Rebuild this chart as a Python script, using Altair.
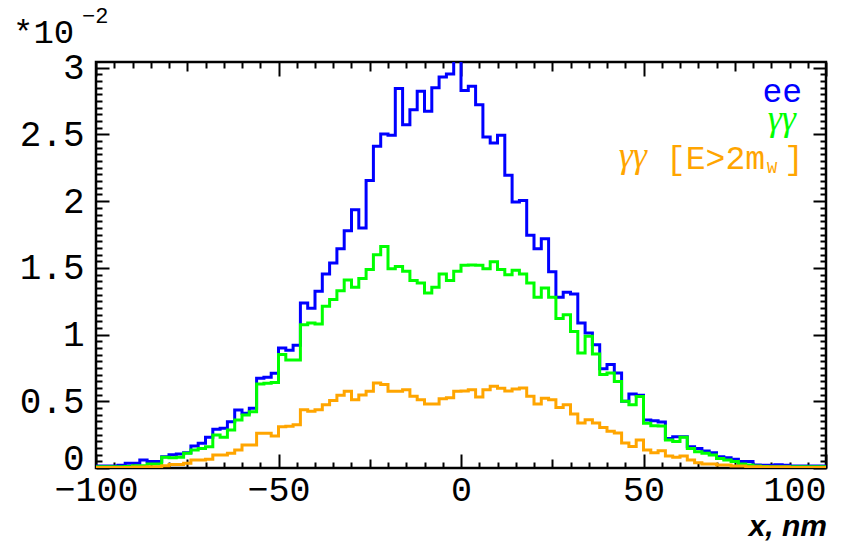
import altair as alt
import numpy as np
import pandas as pd

# ---------------- data (values in units of 1e-2) ----------------
bin_start = -100
bin_width = 2

ee_values = [
    0.015, 0.015, 0.015, 0.02, 0.035, 0.035, 0.06, 0.048, 0.048, 0.085,
    0.10, 0.105, 0.115, 0.165, 0.185, 0.23, 0.29, 0.297, 0.347, 0.435,
    0.41, 0.447, 0.672, 0.68, 0.71, 0.90, 0.882, 0.92, 1.237, 1.197,
    1.325, 1.454, 1.537, 1.644, 1.779, 1.936, 1.799, 2.154, 2.411, 2.504,
    2.494, 2.845, 2.573, 2.686, 2.824, 2.674, 2.85, 2.93, 2.953, 3.06,
    2.829, 2.861, 2.723, 2.481, 2.436, 2.494, 2.194, 1.994, 2.004, 1.745,
    1.644, 1.719, 1.47, 1.279, 1.317, 1.304, 1.087, 1.012, 0.924, 0.744,
    0.775, 0.712, 0.50, 0.555, 0.545, 0.36, 0.355, 0.345, 0.222, 0.235,
    0.235, 0.16, 0.147, 0.128, 0.115, 0.085, 0.077, 0.065, 0.048, 0.048,
    0.022, 0.02, 0.02, 0.025, 0.02, 0.015, 0.015, 0.015, 0.015, 0.015,
]

gg_values = [
    0.01, 0.01, 0.01, 0.01, 0.012, 0.017, 0.017, 0.03, 0.03, 0.08,
    0.077, 0.081, 0.11, 0.135, 0.147, 0.16, 0.247, 0.23, 0.285, 0.36,
    0.397, 0.422, 0.63, 0.635, 0.64, 0.85, 0.81, 0.81, 1.074, 1.087,
    1.08, 1.212, 1.262, 1.329, 1.409, 1.354, 1.42, 1.487, 1.599, 1.661,
    1.494, 1.51, 1.475, 1.405, 1.387, 1.311, 1.354, 1.454, 1.405, 1.475,
    1.519, 1.521, 1.519, 1.494, 1.545, 1.487, 1.449, 1.482, 1.454, 1.387,
    1.279, 1.349, 1.279, 1.12, 1.149, 1.024, 0.862, 0.987, 0.854, 0.70,
    0.712, 0.649, 0.50, 0.475, 0.535, 0.335, 0.317, 0.314, 0.21, 0.198,
    0.23, 0.147, 0.122, 0.11, 0.097, 0.072, 0.06, 0.048, 0.03, 0.022,
    0.015, 0.012, 0.01, 0.01, 0.01, 0.01, 0.01, 0.01, 0.01, 0.01,
]

ggw_values = [
    0.004, 0.004, 0.004, 0.004, 0.004, 0.007, 0.007, 0.01, 0.01, 0.017,
    0.027, 0.027, 0.035, 0.06, 0.06, 0.065, 0.097, 0.097, 0.11, 0.135,
    0.172, 0.172, 0.26, 0.26, 0.24, 0.31, 0.312, 0.325, 0.437, 0.425,
    0.437, 0.475, 0.505, 0.545, 0.575, 0.512, 0.548, 0.575, 0.637, 0.625,
    0.575, 0.575, 0.587, 0.538, 0.512, 0.48, 0.48, 0.519, 0.527, 0.575,
    0.578, 0.587, 0.532, 0.587, 0.613, 0.598, 0.578, 0.593, 0.599, 0.538,
    0.48, 0.522, 0.512, 0.454, 0.475, 0.405, 0.338, 0.362, 0.338, 0.304,
    0.275, 0.263, 0.188, 0.162, 0.21, 0.135, 0.115, 0.13, 0.09, 0.08,
    0.09, 0.06, 0.04, 0.03, 0.03, 0.022, 0.022, 0.015, 0.015, 0.01,
    0.01, 0.007, 0.007, 0.007, 0.007, 0.004, 0.004, 0.004, 0.004, 0.004,
]

series_colors = ["#0000ff", "#00ff00", "#ffa500"]
x_label_values = [-100, -50, 0, 50, 100]
x_tick_values = list(range(-100, 101, 5))
y_label_values = [0, 0.5, 1, 1.5, 2, 2.5, 3]
y_tick_values = [round(0.05 * i, 2) for i in range(61)]
x_domain = [-100, 100]
y_domain = [0, 3.043]

# ---------------- layout ----------------
W, H = 730, 406
MONO = "Liberation Mono"
GREEK = "Liberation Serif"

edges = bin_start + bin_width * np.arange(len(ee_values) + 1)


def hist_frame(vals):
    return pd.DataFrame({"x": edges, "y": list(vals) + [vals[-1]]})


xs = alt.Scale(domain=x_domain, nice=False, zero=False)
ys = alt.Scale(domain=y_domain, nice=False, zero=False)

x_tick_expr = alt.ExprRef(expr="datum.value % 50 === 0 ? 14 : (datum.value % 25 === 0 ? 9 : 6)")
y_tick_expr = alt.ExprRef(expr="abs(datum.value * 2 - round(datum.value * 2)) < 0.001 ? 13 : 6")

x_axis_labels = alt.Axis(
    orient="bottom", values=x_label_values, ticks=False, domain=False, grid=False,
    labelFont=MONO, labelFontSize=35, labelColor="black", labelPadding=4,
    labelOverlap=False, labelFlush=False,
    labelAlign={"condition": {"test": "datum.value === 100", "value": "right"}, "value": "center"},
    title=None,
)
y_axis_labels = alt.Axis(
    orient="left", values=y_label_values, ticks=False, domain=False, grid=False,
    labelFont=MONO, labelFontSize=36, labelColor="black", labelPadding=12,
    labelOverlap=False, labelFlush=False,
    labelOffset={"condition": {"test": "datum.value === 0", "value": -10}, "value": 0},
    labelExpr="format(datum.value, '.1~f')", title=None,
)
x_axis_ticks_bottom = alt.Axis(
    orient="top", offset=-H, values=x_tick_values, labels=False, domain=False, grid=False,
    ticks=True, tickColor="black", tickWidth=2, tickSize=x_tick_expr, title=None,
)
y_axis_ticks_left = alt.Axis(
    orient="right", offset=-W, values=y_tick_values, labels=False, domain=False, grid=False,
    ticks=True, tickColor="black", tickWidth=2, tickSize=y_tick_expr, title=None,
)
x_axis_ticks_top = alt.Axis(
    orient="bottom", offset=-H, values=x_tick_values, labels=False, domain=False, grid=False,
    ticks=True, tickColor="black", tickWidth=2, tickSize=x_tick_expr, title=None,
)
y_axis_ticks_right = alt.Axis(
    orient="left", offset=-W, values=y_tick_values, labels=False, domain=False, grid=False,
    ticks=True, tickColor="black", tickWidth=2, tickSize=y_tick_expr, title=None,
)


def hist_layer(vals, color, xaxis, yaxis):
    return alt.Chart(hist_frame(vals)).mark_line(
        interpolate="step-after", clip=True, strokeWidth=3, color=color
    ).encode(
        x=alt.X("x:Q", scale=xs, axis=xaxis),
        y=alt.Y("y:Q", scale=ys, axis=yaxis),
    )


blue = hist_layer(ee_values, series_colors[0], x_axis_labels, y_axis_labels)
green = hist_layer(gg_values, series_colors[1], x_axis_ticks_bottom, y_axis_ticks_left)
orange = hist_layer(ggw_values, series_colors[2], x_axis_ticks_top, y_axis_ticks_right)


def text_layer(txt, px, py, size, color="black", align="left", font=MONO, weight="normal", style="normal"):
    return alt.Chart(pd.DataFrame({"t": [txt]})).mark_text(
        align=align, baseline="alphabetic", font=font, fontSize=size, color=color,
        fontWeight=weight, fontStyle=style,
    ).encode(text="t:N", x=alt.value(px), y=alt.value(py))


texts = [
    # exponent label
    text_layer("*10", -83, -19, 34),
    text_layer("\u22122", -14, -39, 22),
    # legend
    text_layer("ee", 706, 40, 33, series_colors[0], "right"),
    text_layer("γγ", 700, 68, 36, series_colors[1], "right", GREEK, "normal", "italic"),
    text_layer("γγ", 551, 105, 36, series_colors[2], "right", GREEK, "normal", "italic"),
    text_layer("[E>2m", 669, 107, 33, series_colors[2], "right"),
    text_layer("W", 671, 111, 17, series_colors[2], "left"),
    text_layer("]", 688, 107, 33, series_colors[2], "left"),
    # axis title
    text_layer("x, nm", 731, 474, 30, "black", "right", "Liberation Sans", "bold", "italic"),
]

chart = alt.layer(blue, green, orange, *texts).resolve_scale(
    x="shared", y="shared"
).resolve_axis(
    x="independent", y="independent"
).properties(
    width=W, height=H,
    padding={"left": 96, "top": 62, "right": 22, "bottom": 74},
    autosize=alt.AutoSizeParams(type="none"),
    background="white",
).configure_view(
    stroke="black", strokeWidth=2.5,
)

chart.save("out.html", embed_options={"renderer": "svg", "actions": False})
